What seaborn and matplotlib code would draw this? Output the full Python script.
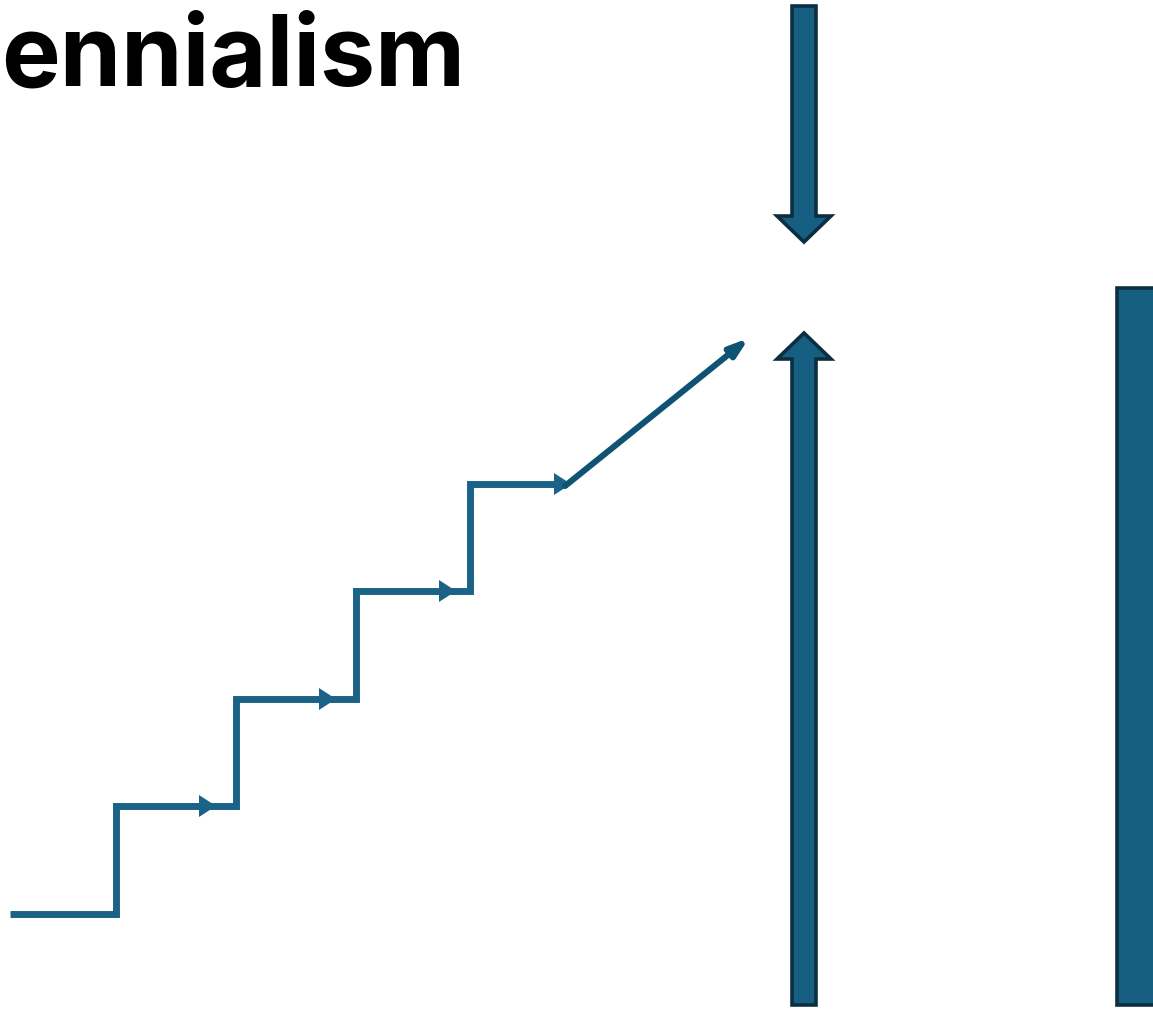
import numpy as np
import pandas as pd
import seaborn as sns
import matplotlib.pyplot as plt
from matplotlib.patches import Polygon

sns.set_theme(style="white")
plt.rcParams['font.family'] = ['Inter', 'DejaVu Sans']

# title (left part is cut off in the original)
title = "ennialism"

# staircase path (pixel space of the picture)
step_x = [10, 116, 116, 236, 236, 356, 356, 470, 470, 567]
step_y = [914, 914, 806, 806, 699, 699, 591, 591, 484, 484]
# small arrowheads on each tread (tip x, y)
tick_x = [216, 336, 456, 571]
tick_y = [806, 699, 591, 484]
# final diagonal
diag_x = [565, 749]
diag_y = [486, 338]

# block arrows: centre x, tail y, tip y
blk_cx = [804, 804]
blk_tail = [6, 1005]
blk_tip = [242, 333]
# big bar on the right
bar_left, bar_top, bar_bottom = 1117, 288, 1005

fill = "#175f82"
edge = "#0c2e40"
line = "#1a6386"

fig = plt.figure(figsize=(11.53, 10.10), dpi=100)
ax = fig.add_axes([0, 0, 1, 1])
ax.set_xlim(0, 1153)
ax.set_ylim(1010, 0)
ax.axis("off")

steps = pd.DataFrame({"x": step_x, "y": step_y})
sns.lineplot(data=steps, x="x", y="y", sort=False, estimator=None,
             color=line, lw=5.0, ax=ax,
             solid_joinstyle="miter", solid_capstyle="butt")

for tx, ty in zip(tick_x, tick_y):
    ax.add_patch(Polygon([[tx, ty], [tx - 17, ty - 11], [tx - 17, ty + 11]],
                         closed=True, fc=line, ec="none"))

ax.annotate("", xy=(diag_x[1], diag_y[1]), xytext=(diag_x[0], diag_y[0]),
            arrowprops=dict(arrowstyle="-|>,head_length=0.9,head_width=0.3",
                            color="#0f5272", lw=4.4, shrinkA=0, shrinkB=0))

def block_arrow(cx, tail, tip, shaft=24, head=54, hlen=26):
    d = 1 if tip > tail else -1
    base = tip - d * hlen
    pts = [[cx - shaft / 2, tail], [cx - shaft / 2, base], [cx - head / 2, base],
           [cx, tip], [cx + head / 2, base], [cx + shaft / 2, base],
           [cx + shaft / 2, tail]]
    ax.add_patch(Polygon(pts, closed=True, fc=fill, ec=edge, lw=2.6,
                         joinstyle="miter"))

for cx, t0, t1 in zip(blk_cx, blk_tail, blk_tip):
    block_arrow(cx, t0, t1)

ax.add_patch(Polygon([[bar_left, bar_bottom], [bar_left, bar_top],
                      [1170, bar_top], [1170, bar_bottom]],
                     closed=True, fc=fill, ec=edge, lw=2.6))

ax.text(1, 86, title, fontsize=71, fontweight="bold", color="black",
        ha="left", va="baseline")

fig.savefig("out.png", dpi=100)
